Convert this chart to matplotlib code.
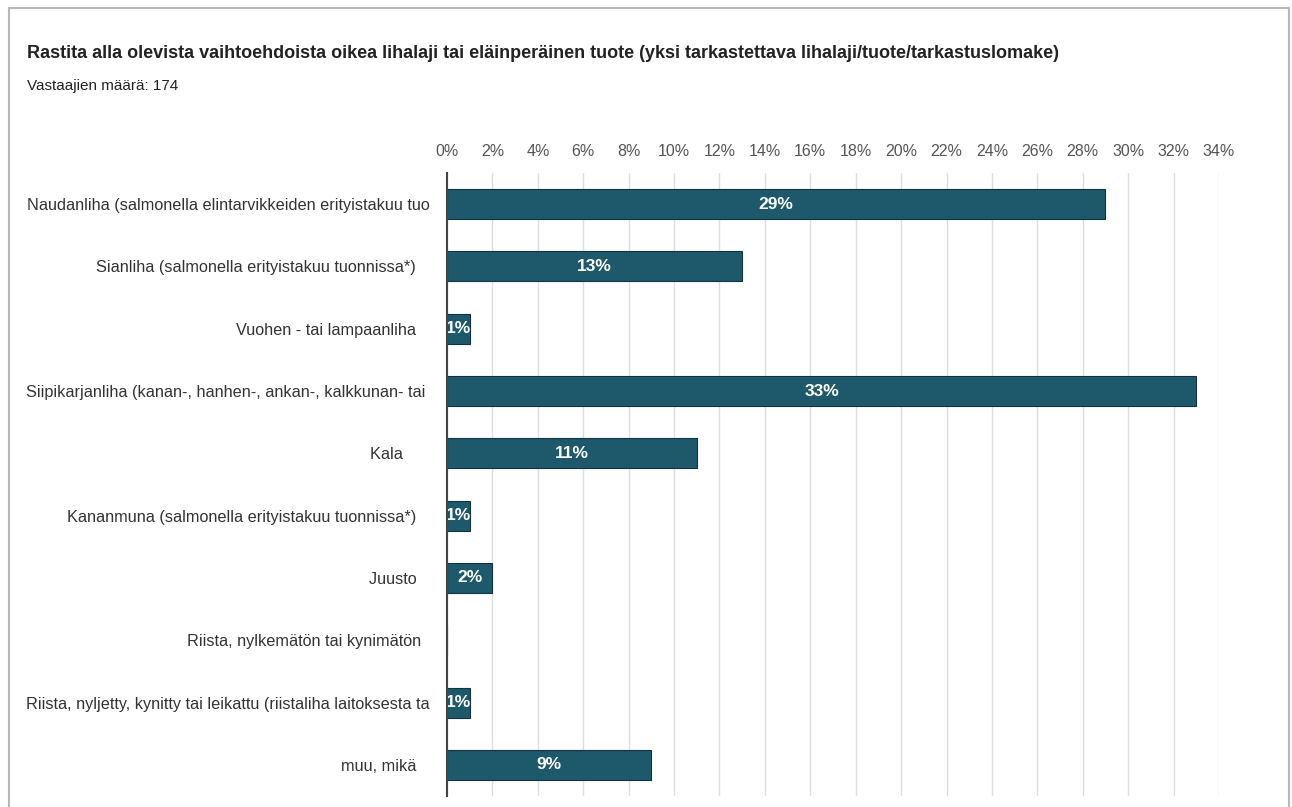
import matplotlib.pyplot as plt
from matplotlib.patches import Rectangle

plt.rcParams['font.family'] = ['Liberation Sans', 'DejaVu Sans']

# labels keep the trailing blanks that the survey tool left in them
categories = [
    "Naudanliha (salmonella elintarvikkeiden erityistakuu tuo",
    "Sianliha (salmonella erityistakuu tuonnissa*)   ",
    "Vuohen - tai lampaanliha   ",
    "Siipikarjanliha (kanan-, hanhen-, ankan-, kalkkunan- tai ",
    "Kala      ",
    "Kananmuna (salmonella erityistakuu tuonnissa*)   ",
    "Juusto   ",
    "Riista, nylkemätön tai kynimätön  ",
    "Riista, nyljetty, kynitty tai leikattu (riistaliha laitoksesta ta",
    "muu, mikä   ",
]
values = [29, 13, 1, 33, 11, 1, 2, 0, 1, 9]
ticks = list(range(0, 36, 2))

title = "Rastita alla olevista vaihtoehdoista oikea lihalaji tai eläinperäinen tuote (yksi tarkastettava lihalaji/tuote/tarkastuslomake)"
subtitle = "Vastaajien määrä: 174"

bar_color = "#1d586b"

fig = plt.figure(figsize=(12.92, 8.07), dpi=100)

# screenshot frame
fig.patches.append(Rectangle((9 / 1292, -0.05), 1280 / 1292, 1.05 - 8 / 807,
                             transform=fig.transFigure, fill=False,
                             edgecolor="#b8b8b8", lw=1.5))

fig.text(27 / 1292, 1 - 53 / 807, title, fontsize=13.0, fontweight="bold",
         color="#222222", va="center")
fig.text(27 / 1292, 1 - 86 / 807, subtitle, fontsize=11, color="#222222",
         va="center")

ax = fig.add_axes([447 / 1292, 11 / 807, (1219 - 447) / 1292, (796 - 173) / 807])

y = list(range(len(categories)))
bars = ax.barh(y, values, height=0.48, color=bar_color, edgecolor="#0f3440",
               lw=0.8, zorder=3)

for b, v in zip(bars, values):
    if v <= 0:
        continue
    t = ax.text(v / 2, b.get_y() + b.get_height() / 2, f"{v}%",
                ha="center", va="center", color="white", fontsize=12.5,
                fontweight="bold", zorder=4)
    t.set_clip_path(b)

ax.set_xlim(0, 34)
ax.set_ylim(len(categories) - 0.5, -0.5)
ax.set_xticks(ticks)
ax.set_xticklabels([f"{t}%" for t in ticks])
ax.xaxis.tick_top()
ax.tick_params(axis="x", length=0, pad=10, labelsize=11.5, labelcolor="#555555")
ax.set_yticks(y)
ax.set_yticklabels(categories)
ax.tick_params(axis="y", length=0, pad=12.5, labelsize=11.7, labelcolor="#333333")
ax.grid(axis="x", color="#dedede", lw=1, zorder=0)
for s in ["top", "right", "bottom"]:
    ax.spines[s].set_visible(False)
ax.spines["left"].set_color("#444444")
ax.spines["left"].set_linewidth(1.5)
ax.spines["left"].set_zorder(5)

fig.savefig("out.png", dpi=100)
